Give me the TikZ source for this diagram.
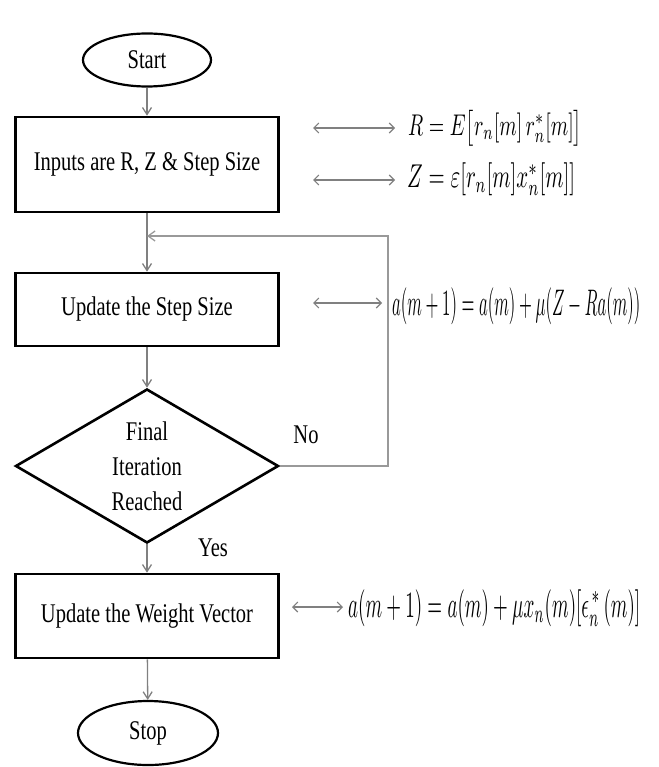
\documentclass[tikz,border=0pt]{standalone}
\usepackage{fontspec}
\setmainfont[FakeStretch=0.76]{Liberation Serif}
\usepackage{graphicx}
\usetikzlibrary{shapes.geometric,arrows.meta}
\newcommand\myeq[3]{\resizebox*{#1}{#2}{$#3$}}
\tikzset{
  txt/.style={font=\fontsize{27}{35}\selectfont, inner sep=0pt},
  procbox/.style={txt, draw=black, line width=2.6pt, minimum width=263pt, align=center},
  termnode/.style={txt, ellipse, draw=black, line width=2.2pt},
  decnode/.style={txt, diamond, draw=black, line width=2.6pt, aspect=1.7,
     minimum width=263pt, minimum height=154pt, align=center},
  conn/.style={draw=gray, line width=1.3pt, -{Straight Barb[length=7pt,width=9pt]}},
  loopline/.style={draw=gray!80, line width=1.3pt, -{Straight Barb[length=7pt,width=10pt]}},
  dbl/.style={draw=gray, line width=1.1pt, {Straight Barb[length=5pt,width=10pt]}-{Straight Barb[length=5pt,width=10pt]}},
  eqnode/.style={anchor=west, inner sep=0pt}
}
\begin{document}
\begin{tikzpicture}[x=1pt,y=-1pt]
\useasboundingbox (0,0) rectangle (658,767);
% nodes
\node[termnode, minimum width=128pt, minimum height=53pt] (start) at (147,60) {Start};
\node[procbox, minimum height=95pt] (box1) at (147,164.5) {Inputs are R, Z \& Step Size};
\node[procbox, minimum height=73pt] (box2) at (147,309.5) {Update the Step Size};
\node[decnode] (dec) at (147,466) {Final\\Iteration\\Reached};
\node[procbox, minimum height=84pt] (box3) at (147,616) {Update the Weight Vector};
\node[termnode, minimum width=140pt, minimum height=64pt] (stop) at (148,733) {Stop};
\node[txt] (no) at (306,435) {No};
\node[txt] (yes) at (213,548) {Yes};
% connectors
\draw[conn] (start) -- (box1);
\draw[conn] (box1) -- (box2);
\draw[conn] (box2) -- (dec);
\draw[conn] (dec) -- (box3);
\draw[conn] (box3) -- (stop);
\coordinate (loopcorner) at (388,236);
\coordinate (loopin) at (147,236);
\draw[loopline] (dec.east) -| (loopcorner) -- (loopin);
% equations
\coordinate (a1l) at (313,128); \coordinate (a1r) at (395,128);
\coordinate (a2l) at (313,180); \coordinate (a2r) at (395,180);
\coordinate (a3l) at (313,303); \coordinate (a3r) at (382,303);
\coordinate (a4l) at (292,607); \coordinate (a4r) at (343,607);
\draw[dbl] (a1l) -- (a1r);
\draw[dbl] (a2l) -- (a2r);
\draw[dbl] (a3l) -- (a3r);
\draw[dbl] (a4l) -- (a4r);
\node[eqnode] (eq1) at (408,128) {\myeq{174pt}{36pt}{R = E\big[r_n[m]\, r_n^{*}[m]\big]}};
\node[eqnode] (eq2) at (407,179) {\myeq{168pt}{33pt}{Z = \varepsilon[r_n[m]x_n^{*}[m]]}};
\node[eqnode] (eq3) at (392,306) {\myeq{248pt}{37pt}{a(m+1) = a(m) + \mu(Z - Ra(m))}};
\node[eqnode] (eq4) at (348,608) {\myeq{292pt}{37pt}{a(m+1) = a(m) + \mu x_n(m)[\epsilon_n^{\,*}\,(m)]}};
\end{tikzpicture}
\end{document}
